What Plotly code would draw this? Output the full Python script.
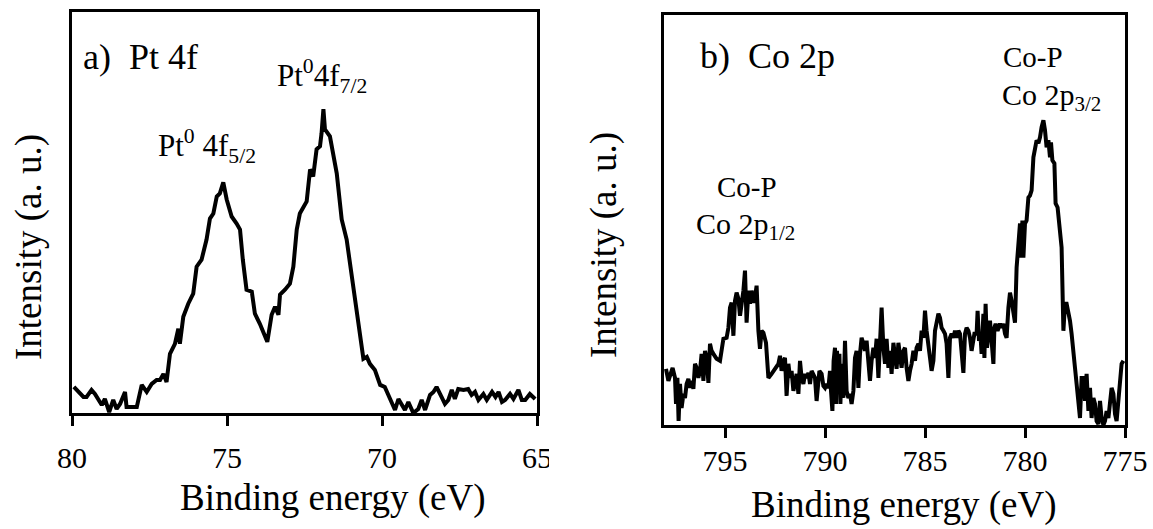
import plotly.graph_objects as go

W, H = 1153, 529

# ---------------- data ----------------
pt_energy = [79.94, 79.80, 79.63, 79.53, 79.37, 79.26, 79.15, 79.04, 78.94, 78.80,
             78.67, 78.56, 78.45, 78.29, 78.24, 78.13, 77.91, 77.75, 77.59, 77.43,
             77.27, 77.16, 77.05, 76.95, 76.84, 76.68, 76.57, 76.52, 76.41, 76.25,
             76.09, 75.98, 75.82, 75.66, 75.55, 75.44, 75.33, 75.23, 75.12, 75.01,
             74.85, 74.69, 74.58, 74.49, 74.37, 74.20, 74.10, 73.94, 73.70, 73.56,
             73.45, 73.34, 73.29, 73.13, 72.97, 72.86, 72.75, 72.65, 72.43, 72.32,
             72.22, 72.11, 72.00, 71.95, 71.89, 71.84, 71.68, 71.46, 71.30, 71.14,
             70.92, 70.76, 70.60, 70.49, 70.39, 70.23, 70.06, 69.91, 69.74, 69.58,
             69.47, 69.37, 69.26, 69.15, 68.99, 68.83, 68.72, 68.61, 68.45, 68.34,
             68.24, 68.08, 67.97, 67.86, 67.75, 67.65, 67.54, 67.37, 67.22, 67.11,
             67.00, 66.89, 66.73, 66.62, 66.45, 66.34, 66.24, 66.13, 66.03, 65.87,
             65.76, 65.60, 65.49, 65.38, 65.23, 65.06]
pt_intensity = [26, 21, 16, 16, 23, 19, 13, 8, 14, 1,
                13, 4, 9, 21, 6, 6, 6, 28, 21, 29,
                33, 33, 39, 31, 59, 69, 84, 69, 96, 109,
                119, 146, 153, 173, 194, 199, 216, 219, 230, 213,
                196, 189, 183, 153, 123, 121, 99, 89, 71, 98,
                106, 98, 118, 123, 129, 146, 183, 199, 211, 243,
                236, 263, 266, 279, 303, 283, 276, 239, 193, 173,
                126, 89, 54, 56, 49, 43, 28, 26, 13, 3,
                14, 8, 3, 11, 0, 4, 13, 3, 18, 21,
                26, 16, 9, 13, 23, 14, 24, 23, 24, 18,
                21, 13, 19, 13, 21, 16, 21, 11, 13, 19,
                14, 23, 13, 13, 19, 14]

co_energy = [797.95, 797.83, 797.72, 797.62, 797.50, 797.45, 797.38, 797.32, 797.25, 797.17,
             797.08, 797.00, 796.92, 796.83, 796.75, 796.67, 796.58, 796.50, 796.42, 796.33,
             796.25, 796.17, 796.08, 796.00, 795.92, 795.83, 795.75, 795.67, 795.58, 795.42,
             795.25, 795.08, 794.92, 794.83, 794.75, 794.67, 794.58, 794.50, 794.42, 794.33,
             794.25, 794.17, 794.08, 794.00, 793.92, 793.83, 793.75, 793.67, 793.58, 793.50,
             793.42, 793.33, 793.25, 793.17, 793.08, 792.95, 792.83, 792.67, 792.50, 792.33,
             792.25, 792.17, 792.08, 792.00, 791.92, 791.83, 791.75, 791.67, 791.58, 791.50,
             791.42, 791.33, 791.25, 791.17, 791.08, 791.00, 790.92, 790.83, 790.75, 790.67,
             790.58, 790.50, 790.42, 790.28,
             790.17, 790.08, 790.00, 789.92, 789.83, 789.75, 789.70, 789.63, 789.57, 789.50,
             789.45, 789.40, 789.33, 789.28, 789.23, 789.17, 789.08, 789.00, 788.92, 788.83,
             788.75, 788.67, 788.58, 788.50, 788.42, 788.33, 788.25, 788.17, 788.08, 788.00,
             787.92, 787.83, 787.75, 787.67, 787.58, 787.50, 787.42, 787.33, 787.25, 787.17,
             787.08, 787.00, 786.92, 786.83, 786.75, 786.67, 786.58, 786.50, 786.42, 786.33,
             786.25, 786.17, 786.08, 786.00, 785.92, 785.83, 785.75, 785.67, 785.58, 785.50,
             785.42, 785.33, 785.25, 785.17, 785.08, 785.00, 784.92, 784.83, 784.75, 784.67,
             784.58, 784.50, 784.42, 784.33, 784.25, 784.17, 784.08, 784.00, 783.92, 783.83,
             783.75, 783.67, 783.58, 783.50, 783.42, 783.33, 783.25, 783.17, 783.08, 783.00,
             782.92, 782.83, 782.75, 782.67, 782.53,
             782.42, 782.37, 782.30, 782.23, 782.17, 782.08, 782.03, 781.97, 781.90, 781.83,
             781.75, 781.67, 781.58, 781.53, 781.47, 781.37, 781.25, 781.17, 781.08, 781.00,
             780.92, 780.83, 780.75, 780.67, 780.58, 780.50, 780.42, 780.37, 780.30, 780.25,
             780.20, 780.13, 780.08, 780.00, 779.92, 779.83, 779.75, 779.67, 779.58, 779.50,
             779.42, 779.33, 779.25, 779.17, 779.08, 779.00, 778.92, 778.83, 778.75, 778.70,
             778.63, 778.53, 778.47, 778.37, 778.25, 778.17, 778.08, 778.00, 777.92, 777.83,
             777.75, 777.67, 777.58, 777.50, 777.42, 777.33, 777.25, 777.17, 777.08, 777.00,
             776.92, 776.83, 776.75, 776.67, 776.58, 776.50, 776.42, 776.33, 776.25, 776.17,
             776.08, 776.00, 775.92, 775.83, 775.75, 775.67, 775.58, 775.50, 775.42, 775.33,
             775.25, 775.17, 775.08]
co_intensity = [56, 44, 51, 57, 47, 21, 47, 4, 41, 17,
                31, 27, 41, 46, 37, 44, 36, 61, 57, 47,
                54, 71, 44, 74, 67, 42, 81, 74, 71, 66,
                64, 86, 87, 97, 117, 122, 89, 124, 132, 126,
                109, 121, 134, 154, 102, 134, 121, 134, 122, 127,
                139, 94, 76, 94, 92, 82, 47, 51, 56, 61,
                69, 54, 64, 67, 29, 61, 47, 54, 34, 46,
                51, 31, 64, 47, 41, 51, 47, 52, 41, 54,
                51, 47, 24, 54,
                51, 39, 37, 41, 37, 54, 34, 14, 64, 77,
                21, 74, 31, 71, 21, 61, 27, 84, 34, 27,
                31, 21, 34, 67, 74, 37, 71, 87, 81, 74,
                84, 61, 44, 64, 77, 67, 86, 47, 84, 117,
                77, 61, 86, 57, 74, 51, 82, 64, 56, 82,
                67, 57, 74, 77, 57, 44, 54, 61, 74, 64,
                77, 81, 74, 94, 87, 114, 94, 74, 67, 54,
                64, 94, 101, 111, 107, 97, 94, 91, 81, 47,
                87, 91, 87, 94, 87, 94, 91, 74, 52, 91,
                97, 94, 87, 74, 91,
                91, 114, 84, 91, 71, 111, 67, 121, 77, 94,
                104, 84, 61, 97, 101, 94, 101, 97, 101, 91,
                87, 117, 132, 124, 111, 102, 157, 171, 181, 201,
                167, 204, 167, 201, 204, 227, 229, 234, 267, 274,
                284, 281, 287, 297, 304, 294, 277, 284, 267, 282,
                264, 261, 221, 217, 191, 177, 94, 121, 121, 114,
                104, 91, 77, 57, 41, 24, 7, 47, 47, 24,
                51, 14, 37, 7, 27, 21, 4, 1, 24, 7,
                0, 4, 14, 7, 27, 37, 31, 11, 4, 24,
                37, 61, 64]

pt_ticks = [80, 75, 70, 65]
co_ticks = [795, 790, 785, 780, 775]
x_title = "Binding energy (eV)"
y_title = "Intensity (a. u.)"

FONT = "Liberation Serif"

fig = go.Figure()
fig.add_trace(go.Scatter(x=pt_energy, y=pt_intensity, mode="lines",
                         line=dict(color="black", width=4),
                         xaxis="x", yaxis="y", showlegend=False))
fig.add_trace(go.Scatter(x=co_energy, y=co_intensity, mode="lines",
                         line=dict(color="black", width=4),
                         xaxis="x2", yaxis="y2", showlegend=False))


def px_x(p):
    return p / W


def px_y(p):
    return 1 - p / H


axis_common = dict(showgrid=False, zeroline=False, showline=True, linewidth=3,
                   linecolor="black", mirror=True, automargin=False)
xcommon = dict(axis_common, ticks="outside", ticklen=10, tickwidth=3,
               tickcolor="black", tickfont=dict(family=FONT, size=30, color="black"))
ycommon = dict(axis_common, ticks="", showticklabels=False)

fig.update_layout(
    template="none",
    width=W, height=H,
    margin=dict(l=0, r=0, t=0, b=0, autoexpand=False),
    paper_bgcolor="white", plot_bgcolor="white",
    font=dict(family=FONT, color="black"),
    xaxis=dict(xcommon, domain=[px_x(72), px_x(537)], range=[80, 65],
               tickvals=pt_ticks, anchor="y", ticklabelstandoff=6),
    yaxis=dict(ycommon, domain=[px_y(413), px_y(12)], range=[0, 400], anchor="x"),
    xaxis2=dict(xcommon, domain=[px_x(664), px_x(1125)], range=[798.05, 775],
                tickvals=co_ticks, anchor="y2", ticklabelstandoff=-3),
    yaxis2=dict(ycommon, domain=[px_y(425), px_y(15)], range=[0, 409], anchor="x2"),
)


def ann(text, x, y, size, xanchor="center", angle=0, align="center"):
    fig.add_annotation(text=text, x=px_x(x), y=px_y(y), xref="paper", yref="paper",
                       xanchor=xanchor, yanchor="middle", showarrow=False,
                       textangle=angle, align=align,
                       font=dict(family=FONT, size=size, color="black"))


# axis titles
ann(x_title, 333, 498, 37)
ann(x_title, 904, 505, 37)
ann(y_title, 29, 247, 37, angle=-90)
ann(y_title, 604, 245, 37, angle=-90)

# panel labels
ann("a)\u00a0 Pt 4f", 81, 57, 36, xanchor="left")
ann("b)\u00a0 Co 2p", 698, 56, 36, xanchor="left")

# peak labels
ann("Pt<sup>0</sup>4f<sub>7/2</sub>", 322, 76, 31)
ann("Pt<sup>0</sup> 4f<sub>5/2</sub>", 207, 146, 31)
ann("Co-P", 747, 187, 29)
ann("Co 2p<sub>1/2</sub>", 745, 226, 30)
ann("Co-P", 1001, 57, 29, xanchor="left")
ann("Co 2p<sub>3/2</sub>", 1000, 97, 30, xanchor="left")

# the last tick label of panel a) is cut off in the original
fig.add_shape(type="rect", xref="paper", yref="paper",
              x0=px_x(549), x1=px_x(578), y0=px_y(485), y1=px_y(435),
              fillcolor="white", line=dict(width=0), layer="above")

fig.write_html("out.html")
